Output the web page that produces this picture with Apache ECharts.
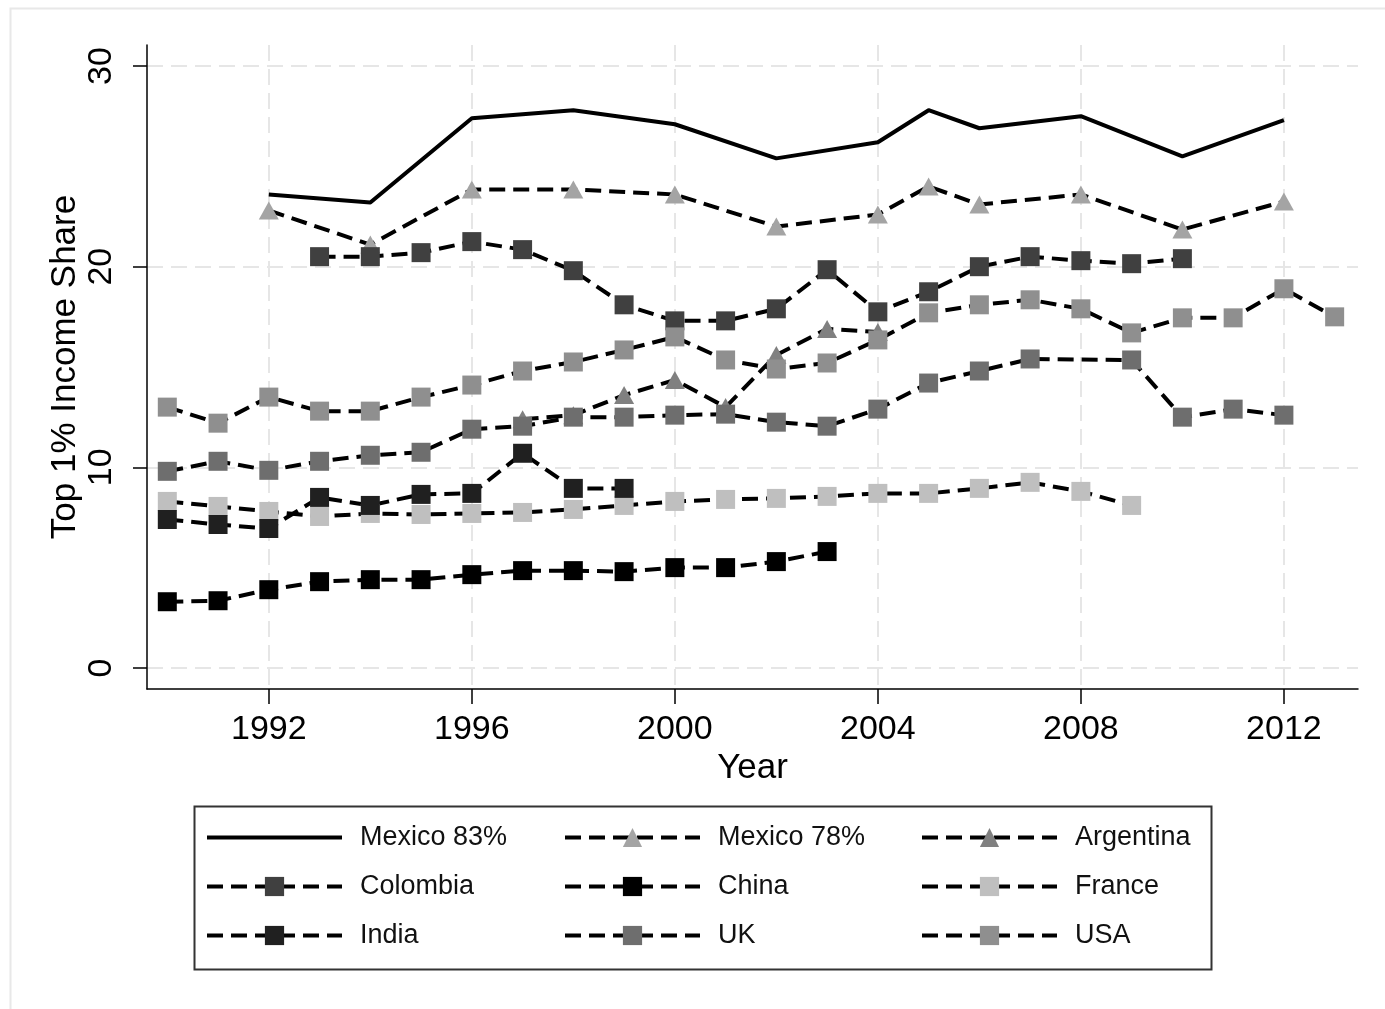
<!DOCTYPE html>
<html><head><meta charset="utf-8">
<script src="https://cdn.jsdelivr.net/npm/echarts@6/dist/echarts.min.js"></script>
<style>html,body{margin:0;padding:0;background:#fff}#c{width:1385px;height:1009px}</style>
</head><body><div id="c"></div>
<script>
// ---- tick labels ----
const xTicks = [1992, 1996, 2000, 2004, 2008, 2012];
const yTicks = [0, 10, 20, 30];

// ---- series data ----
const mex83Years = [1992, 1994, 1996, 1998, 2000, 2002, 2004, 2005, 2006, 2008, 2010, 2012];
const mex83 = [23.6, 23.2, 27.4, 27.8, 27.1, 25.4, 26.2, 27.8, 26.9, 27.5, 25.5, 27.3];
const mex78Years = [1992, 1994, 1996, 1998, 2000, 2002, 2004, 2005, 2006, 2008, 2010, 2012];
const mex78 = [22.8, 21.1, 23.85, 23.85, 23.6, 22.0, 22.6, 24.0, 23.1, 23.6, 21.85, 23.25];
const argYears = [1997, 1998, 1999, 2000, 2001, 2002, 2003, 2004];
const arg = [12.4, 12.6, 13.6, 14.35, 13.0, 15.6, 16.9, 16.75];
const colYears = [1993, 1994, 1995, 1996, 1997, 1998, 1999, 2000, 2001, 2002, 2003, 2004, 2005, 2006, 2007, 2008, 2009, 2010];
const col = [20.5, 20.5, 20.7, 21.25, 20.85, 19.8, 18.1, 17.3, 17.3, 17.9, 19.85, 17.75, 18.75, 20.0, 20.5, 20.3, 20.15, 20.4];
const chinaYears = [1990, 1991, 1992, 1993, 1994, 1995, 1996, 1997, 1998, 1999, 2000, 2001, 2002, 2003];
const china = [3.3, 3.35, 3.9, 4.3, 4.4, 4.4, 4.65, 4.85, 4.85, 4.8, 5.0, 5.0, 5.3, 5.8];
const franceYears = [1990, 1991, 1992, 1993, 1994, 1995, 1996, 1997, 1998, 1999, 2000, 2001, 2002, 2003, 2004, 2005, 2006, 2007, 2008, 2009];
const france = [8.3, 8.05, 7.8, 7.55, 7.7, 7.65, 7.7, 7.75, 7.9, 8.1, 8.3, 8.4, 8.45, 8.55, 8.7, 8.7, 8.95, 9.25, 8.8, 8.1];
const indiaYears = [1990, 1991, 1992, 1993, 1994, 1995, 1996, 1997, 1998, 1999];
const india = [7.4, 7.15, 6.95, 8.5, 8.1, 8.65, 8.7, 10.7, 8.95, 8.95];
const ukYears = [1990, 1991, 1992, 1993, 1994, 1995, 1996, 1997, 1998, 1999, 2000, 2001, 2002, 2003, 2004, 2005, 2006, 2007, 2009, 2010, 2011, 2012];
const uk = [9.8, 10.3, 9.85, 10.3, 10.6, 10.75, 11.9, 12.05, 12.5, 12.5, 12.6, 12.65, 12.25, 12.05, 12.9, 14.2, 14.8, 15.4, 15.35, 12.5, 12.9, 12.6];
const usaYears = [1990, 1991, 1992, 1993, 1994, 1995, 1996, 1997, 1998, 1999, 2000, 2001, 2002, 2003, 2004, 2005, 2006, 2007, 2008, 2009, 2010, 2011, 2012, 2013];
const usa = [13.0, 12.2, 13.5, 12.8, 12.8, 13.5, 14.1, 14.8, 15.25, 15.85, 16.5, 15.35, 14.9, 15.2, 16.35, 17.7, 18.1, 18.35, 17.9, 16.7, 17.45, 17.45, 18.9, 17.5];

const legendCol1 = ['Mexico 83%', 'Colombia', 'India'];
const legendCol2 = ['Mexico 78%', 'China', 'UK'];
const legendCol3 = ['Argentina', 'France', 'USA'];

const FONT = '"Liberation Sans", Arial, sans-serif';
const pairs = (ys, vs) => ys.map((y, i) => [y, vs[i]]);
const DASH = [16, 8];
const LW = 4;

function mk(name, years, vals, symbol, color, size) {
  return {
    name, type: 'line', data: pairs(years, vals),
    symbol, symbolSize: size, showSymbol: symbol !== 'none',
    lineStyle: { color: '#000', width: LW, type: symbol === 'none' ? 'solid' : DASH, join: 'round' },
    itemStyle: { color: color, borderWidth: 0 },
    emphasis: { disabled: true },
    animation: false
  };
}

const series = [
  mk('Mexico 83%', mex83Years, mex83, 'none', 'rgba(0,0,0,0)', 0),
  mk('Mexico 78%', mex78Years, mex78, 'triangle', '#a4a4a4', [20, 18]),
  mk('Argentina', argYears, arg, 'triangle', '#808080', [20, 18]),
  mk('Colombia', colYears, col, 'rect', '#404040', [19, 19]),
  mk('China', chinaYears, china, 'rect', '#000000', [19, 19]),
  mk('France', franceYears, france, 'rect', '#bfbfbf', [19, 19]),
  mk('India', indiaYears, india, 'rect', '#202020', [19, 19]),
  mk('UK', ukYears, uk, 'rect', '#6e6e6e', [19, 19]),
  mk('USA', usaYears, usa, 'rect', '#8f8f8f', [19, 19])
];

function legend(left, data) {
  return {
    orient: 'vertical', left: left, top: 824, itemWidth: 135, itemHeight: 24, itemGap: 22,
    selectedMode: false, data: data, padding: 0,
    itemStyle: { borderWidth: 0 },
    lineStyle: { width: LW },
    textStyle: { fontSize: 27, fontFamily: FONT, color: '#111', padding: [0, 0, 0, 13], lineHeight: 24, height: 24 }
  };
}

const chart = echarts.init(document.getElementById('c'), null, { renderer: 'canvas' });
chart.setOption({
  backgroundColor: '#fff',
  animation: false,
  grid: { left: 147, right: 27, top: 45, bottom: 320, containLabel: false },
  xAxis: {
    type: 'value', min: 1989.6, max: 2013.46,
    name: 'Year', nameLocation: 'middle', nameGap: 62, nameMoveOverlap: false,
    nameTextStyle: { fontSize: 35, fontFamily: FONT, color: '#000' },
    axisLine: { show: true, onZero: false, lineStyle: { color: '#000', width: 1.5 } },
    axisTick: { show: true, length: 15, customValues: xTicks, lineStyle: { color: '#000', width: 1.5 } },
    axisLabel: { customValues: xTicks, formatter: v => String(v), fontSize: 34, fontFamily: FONT, color: '#000', margin: 24 },
    splitLine: { show: true, lineStyle: { color: '#e6e6e6', width: 2, type: DASH } }
  },
  yAxis: {
    type: 'value', min: -1.05, max: 31.05,
    name: 'Top 1% Income Share', nameLocation: 'middle', nameGap: 64, nameMoveOverlap: false,
    nameTextStyle: { fontSize: 35, fontFamily: FONT, color: '#000' },
    axisLine: { show: true, onZero: false, lineStyle: { color: '#000', width: 1.5 } },
    axisTick: { show: true, length: 14, customValues: yTicks, lineStyle: { color: '#000', width: 1.5 } },
    axisLabel: { customValues: yTicks, formatter: v => String(v), rotate: 90, fontSize: 34, fontFamily: FONT, color: '#000', margin: 28 },
    splitLine: { show: true, lineStyle: { color: '#e6e6e6', width: 2, type: DASH } }
  },
  legend: [legend(205, legendCol1), legend(563, legendCol2), legend(920, legendCol3)],
  graphic: [
    { type: 'rect', left: 8, top: 6, shape: { width: 1400, height: 1030 }, style: { fill: 'none', stroke: '#e8e8e8', lineWidth: 2 }, silent: true, z: -10 },
    { type: 'rect', left: 192, top: 804, shape: { width: 1017, height: 163 }, style: { fill: 'none', stroke: '#333', lineWidth: 2 }, silent: true }
  ],
  series: series
});
</script></body></html>
